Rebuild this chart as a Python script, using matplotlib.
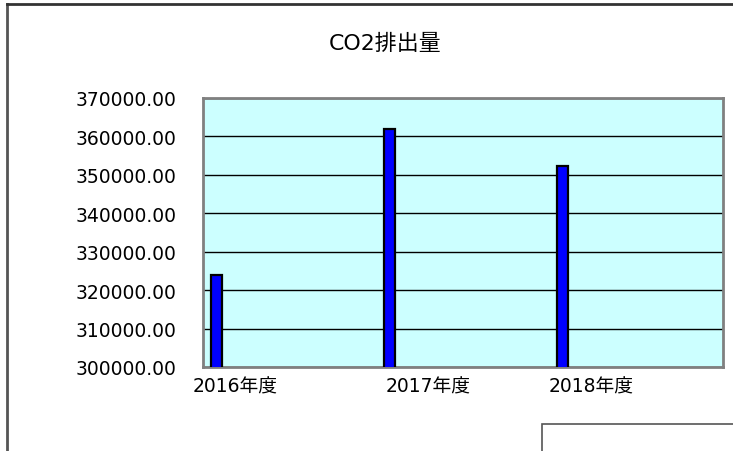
import matplotlib
matplotlib.use('Agg')
import matplotlib.pyplot as plt
from matplotlib.patches import Rectangle
from matplotlib.lines import Line2D
import numpy as np

plt.rcParams['font.family'] = ['DejaVu Sans', 'Noto Sans CJK JP']

# data
years = ['2016年度', '2017年度', '2018年度']
co2 = [323800, 361800, 352200]
y_ticks = [300000, 310000, 320000, 330000, 340000, 350000, 360000, 370000]

# label offsets from each bar (the original places them unevenly)
label_shift = [0.11, 0.225, 0.16]

fig = plt.figure(figsize=(7.33, 4.52), dpi=100)
ax = fig.add_axes([0.277, 0.186, 0.7094, 0.595])
ax.set_facecolor('#CCFFFF')

x = np.arange(len(years))
ax.bar(x, co2, width=0.063, color='#0000FF', edgecolor='black', linewidth=1.6, zorder=3)

ax.set_ylim(y_ticks[0], y_ticks[-1])
ax.set_xlim(-0.075, 2.923)
ax.set_yticks(y_ticks)
ax.set_yticklabels([f'{v:.2f}' for v in y_ticks], fontsize=13.5)
ax.yaxis.grid(True, color='black', linewidth=1.0, zorder=1)
ax.tick_params(axis='y', length=0, pad=19)

ax.set_xticks(x + np.array(label_shift))
ax.set_xticklabels(years, fontsize=13.5)
ax.tick_params(axis='x', length=0, pad=7)

for side in ax.spines.values():
    side.set_color('#808080')
    side.set_linewidth(2)

fig.text(0.526, 0.903, 'CO2排出量', ha='center', va='center', fontsize=15.8)

# outer chart frame and the clipped legend box
fig.add_artist(Line2D([0.0096, 0.0096], [0.0, 0.989], color='#555555', linewidth=2, transform=fig.transFigure))
fig.add_artist(Line2D([0.0096, 1.0], [0.989, 0.989], color='#333333', linewidth=2, transform=fig.transFigure))
fig.add_artist(Rectangle((0.7395, -0.05), 0.3, 0.11, transform=fig.transFigure,
                         fill=False, edgecolor='#555555', linewidth=1.2))

fig.savefig('out.png', dpi=100)
